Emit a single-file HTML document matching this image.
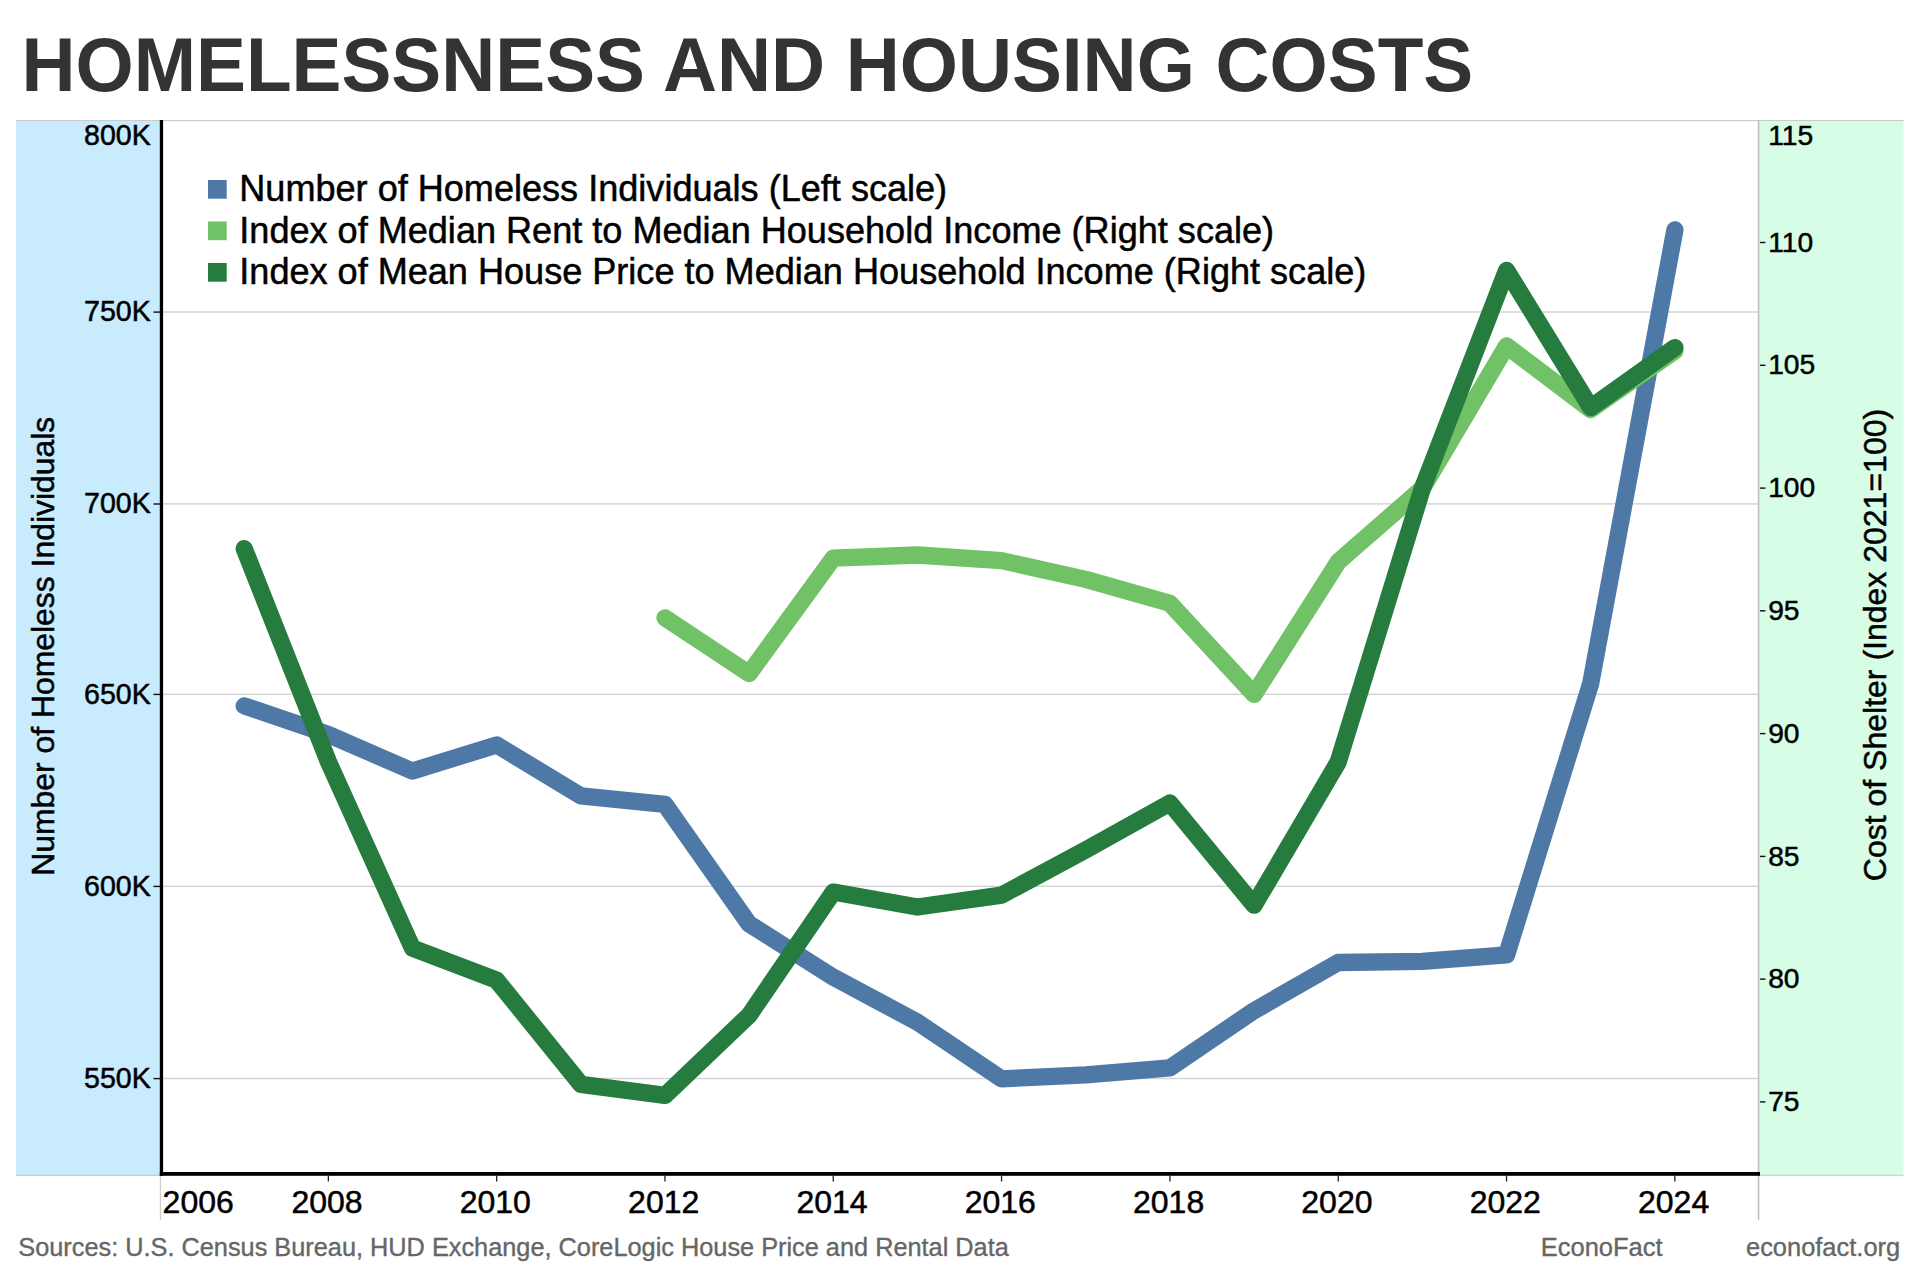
<!DOCTYPE html>
<html lang="en"><head><meta charset="utf-8"><title>Homelessness and Housing Costs</title>
<style>html,body{margin:0;padding:0;background:#fff}body{width:1920px;height:1280px;position:relative;overflow:hidden;font-family:"Liberation Sans",sans-serif}</style>
</head><body>
<svg width="1920" height="1280" viewBox="0 0 1920 1280" style="position:absolute;left:0;top:0;font-family:'Liberation Sans',sans-serif">
<rect x="0" y="0" width="1920" height="1280" fill="#fff"/>
<rect x="16" y="120.5" width="145" height="1055.3" fill="#c8ebfe"/>
<rect x="1759" y="120.5" width="144.6" height="1055.3" fill="#d8fde7"/>
<rect x="16" y="120" width="1887.6" height="1.1" fill="#c9cccc"/>
<rect x="16" y="1174.8" width="145" height="1" fill="#bcc8ca"/>
<rect x="1759" y="1174.8" width="144.6" height="1" fill="#c4d2ca"/>
<rect x="163" y="311.3" width="1595" height="1.4" fill="#d2d2d2"/>
<rect x="163" y="503.2" width="1595" height="1.4" fill="#d2d2d2"/>
<rect x="163" y="693.6" width="1595" height="1.4" fill="#d2d2d2"/>
<rect x="163" y="885.6" width="1595" height="1.4" fill="#d2d2d2"/>
<rect x="163" y="1077.8" width="1595" height="1.4" fill="#d2d2d2"/>
<rect x="1757.8" y="120" width="1.5" height="1100" fill="#bdbdbd"/>
<rect x="159.8" y="1175" width="1.3" height="45" fill="#cfcfcf"/>
<polyline points="244.2,705.9 328.3,734.5 412.5,771.1 496.6,744.9 580.8,795.8 665.0,804.4 749.1,923.9 833.3,977.2 917.4,1022.2 1001.6,1078.9 1085.8,1074.8 1169.9,1067.8 1254.1,1010.7 1338.2,962.5 1422.4,961.3 1506.6,954.9 1590.7,683.5 1674.9,229.8" stroke="#4e79a7" fill="none" stroke-width="17.3" stroke-linecap="round" stroke-linejoin="round"/>
<polyline points="665.0,617.9 749.1,673.6 833.3,558.1 917.4,555.0 1001.6,560.6 1085.8,579.4 1169.9,603.3 1254.1,694.4 1338.2,561.8 1422.4,488.3 1506.6,346.0 1590.7,409.5 1674.9,351.0" stroke="#71c166" fill="none" stroke-width="17.3" stroke-linecap="round" stroke-linejoin="round"/>
<polyline points="244.2,548.6 328.3,761.5 412.5,948.2 496.6,980.2 580.8,1084.3 665.0,1095.4 749.1,1015.3 833.3,892.1 917.4,907.0 1001.6,895.1 1085.8,849.9 1169.9,803.0 1254.1,905.2 1338.2,762.0 1422.4,488.3 1506.6,270.4 1590.7,407.6 1674.9,347.6" stroke="#267b3e" fill="none" stroke-width="17.3" stroke-linecap="round" stroke-linejoin="round"/>
<rect x="159.8" y="120" width="3.3" height="1055.8" fill="#000"/>
<rect x="159.8" y="1172" width="1600.2" height="3.8" fill="#000"/>
<text x="150.8" y="144.6" font-size="28.6" text-anchor="end" fill="#000" stroke="#000" stroke-width="0.5">800K</text>
<rect x="153.5" y="311.4" width="7" height="1.4" fill="#111"/>
<text x="150.8" y="321.4" font-size="28.6" text-anchor="end" fill="#000" stroke="#000" stroke-width="0.5">750K</text>
<rect x="153.5" y="503.3" width="7" height="1.4" fill="#111"/>
<text x="150.8" y="513.3" font-size="28.6" text-anchor="end" fill="#000" stroke="#000" stroke-width="0.5">700K</text>
<rect x="153.5" y="693.7" width="7" height="1.4" fill="#111"/>
<text x="150.8" y="703.7" font-size="28.6" text-anchor="end" fill="#000" stroke="#000" stroke-width="0.5">650K</text>
<rect x="153.5" y="885.7" width="7" height="1.4" fill="#111"/>
<text x="150.8" y="895.7" font-size="28.6" text-anchor="end" fill="#000" stroke="#000" stroke-width="0.5">600K</text>
<rect x="153.5" y="1077.9" width="7" height="1.4" fill="#111"/>
<text x="150.8" y="1087.9" font-size="28.6" text-anchor="end" fill="#000" stroke="#000" stroke-width="0.5">550K</text>
<rect x="1760" y="1101.2" width="5.5" height="1.4" fill="#111"/>
<text x="1768.2" y="1111.0" font-size="28.2" fill="#000" stroke="#000" stroke-width="0.5">75</text>
<rect x="1760" y="978.4" width="5.5" height="1.4" fill="#111"/>
<text x="1768.2" y="988.2" font-size="28.2" fill="#000" stroke="#000" stroke-width="0.5">80</text>
<rect x="1760" y="855.7" width="5.5" height="1.4" fill="#111"/>
<text x="1768.2" y="865.5" font-size="28.2" fill="#000" stroke="#000" stroke-width="0.5">85</text>
<rect x="1760" y="732.9" width="5.5" height="1.4" fill="#111"/>
<text x="1768.2" y="742.7" font-size="28.2" fill="#000" stroke="#000" stroke-width="0.5">90</text>
<rect x="1760" y="610.1" width="5.5" height="1.4" fill="#111"/>
<text x="1768.2" y="619.9" font-size="28.2" fill="#000" stroke="#000" stroke-width="0.5">95</text>
<rect x="1760" y="487.4" width="5.5" height="1.4" fill="#111"/>
<text x="1768.2" y="497.2" font-size="28.2" fill="#000" stroke="#000" stroke-width="0.5">100</text>
<rect x="1760" y="364.6" width="5.5" height="1.4" fill="#111"/>
<text x="1768.2" y="374.4" font-size="28.2" fill="#000" stroke="#000" stroke-width="0.5">105</text>
<rect x="1760" y="241.8" width="5.5" height="1.4" fill="#111"/>
<text x="1768.2" y="251.6" font-size="28.2" fill="#000" stroke="#000" stroke-width="0.5">110</text>
<text x="1768.2" y="145.0" font-size="28.2" fill="#000" stroke="#000" stroke-width="0.5">115</text>
<text x="162.6" y="1213" font-size="32" fill="#000" stroke="#000" stroke-width="0.5">2006</text>
<rect x="327.7" y="1175.5" width="1.3" height="6" fill="#222"/>
<text x="327.0" y="1213" font-size="32" text-anchor="middle" fill="#000" stroke="#000" stroke-width="0.5">2008</text>
<rect x="496.0" y="1175.5" width="1.3" height="6" fill="#222"/>
<text x="495.3" y="1213" font-size="32" text-anchor="middle" fill="#000" stroke="#000" stroke-width="0.5">2010</text>
<rect x="664.3" y="1175.5" width="1.3" height="6" fill="#222"/>
<text x="663.7" y="1213" font-size="32" text-anchor="middle" fill="#000" stroke="#000" stroke-width="0.5">2012</text>
<rect x="832.6" y="1175.5" width="1.3" height="6" fill="#222"/>
<text x="832.0" y="1213" font-size="32" text-anchor="middle" fill="#000" stroke="#000" stroke-width="0.5">2014</text>
<rect x="1000.9" y="1175.5" width="1.3" height="6" fill="#222"/>
<text x="1000.3" y="1213" font-size="32" text-anchor="middle" fill="#000" stroke="#000" stroke-width="0.5">2016</text>
<rect x="1169.3" y="1175.5" width="1.3" height="6" fill="#222"/>
<text x="1168.6" y="1213" font-size="32" text-anchor="middle" fill="#000" stroke="#000" stroke-width="0.5">2018</text>
<rect x="1337.6" y="1175.5" width="1.3" height="6" fill="#222"/>
<text x="1336.9" y="1213" font-size="32" text-anchor="middle" fill="#000" stroke="#000" stroke-width="0.5">2020</text>
<rect x="1505.9" y="1175.5" width="1.3" height="6" fill="#222"/>
<text x="1505.3" y="1213" font-size="32" text-anchor="middle" fill="#000" stroke="#000" stroke-width="0.5">2022</text>
<rect x="1674.2" y="1175.5" width="1.3" height="6" fill="#222"/>
<text x="1673.6" y="1213" font-size="32" text-anchor="middle" fill="#000" stroke="#000" stroke-width="0.5">2024</text>
<rect x="208" y="180.0" width="18.7" height="18.7" fill="#4e79a7"/>
<text x="239.3" y="200.8" font-size="36.1" fill="#000" stroke="#000" stroke-width="0.5">Number of Homeless Individuals (Left scale)</text>
<rect x="208" y="221.5" width="18.7" height="18.7" fill="#71c166"/>
<text x="239.3" y="242.5" font-size="36.1" fill="#000" stroke="#000" stroke-width="0.5">Index of Median Rent to Median Household Income (Right scale)</text>
<rect x="208" y="263.0" width="18.7" height="18.7" fill="#267b3e"/>
<text x="239.3" y="284.2" font-size="36.1" fill="#000" stroke="#000" stroke-width="0.5">Index of Mean House Price to Median Household Income (Right scale)</text>
<text transform="translate(54,646.3) rotate(-90)" font-size="31.9" text-anchor="middle" fill="#000" stroke="#000" stroke-width="0.5">Number of Homeless Individuals</text>
<text transform="translate(1886,645) rotate(-90)" font-size="32" text-anchor="middle" fill="#000" stroke="#000" stroke-width="0.5">Cost of Shelter (Index 2021=100)</text>
<text transform="translate(21.5,91.4) scale(1,1.02)" font-size="74.8" font-weight="bold" fill="#333">HOMELESSNESS AND HOUSING COSTS</text>
<text x="18.3" y="1255.6" font-size="25.32" fill="#666" stroke="#666" stroke-width="0.35">Sources: U.S. Census Bureau, HUD Exchange, CoreLogic House Price and Rental Data</text>
<text x="1540.7" y="1255.6" font-size="25.5" fill="#666" stroke="#666" stroke-width="0.35">EconoFact</text>
<text x="1746" y="1255.6" font-size="25.45" fill="#666" stroke="#666" stroke-width="0.35">econofact.org</text>
</svg>
</body></html>
